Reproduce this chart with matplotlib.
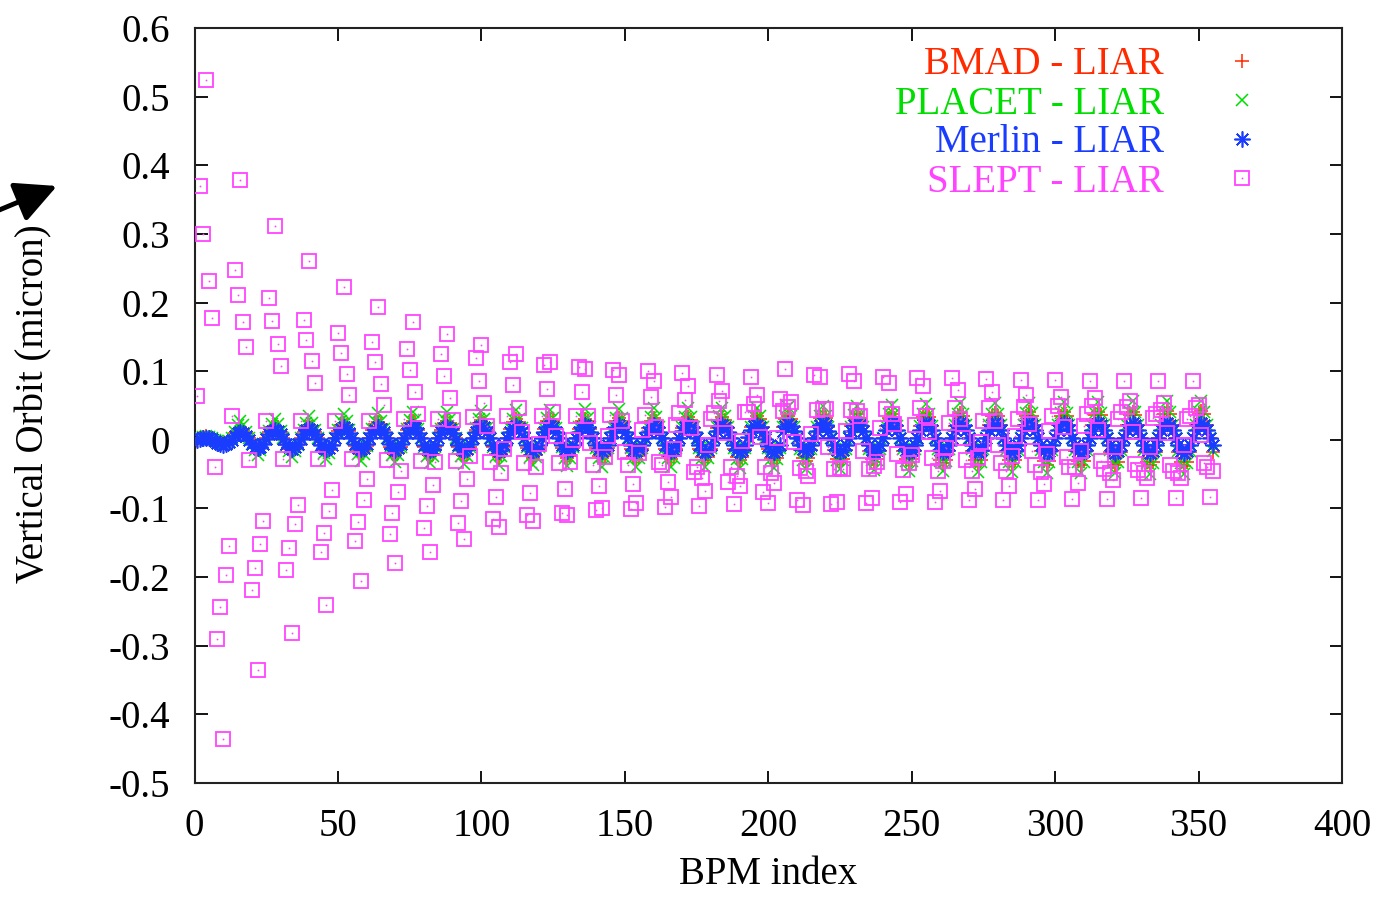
import matplotlib
matplotlib.use('Agg')
import matplotlib.pyplot as plt
from matplotlib.patches import FancyArrowPatch
from matplotlib.lines import Line2D

plt.rcParams['font.family'] = ['Liberation Serif', 'DejaVu Serif']
plt.rcParams['axes.unicode_minus'] = False

# ---------------- data ----------------
N_BPM = 355
PERIOD = 12  # values below are listed per position j inside each 12-BPM cell (BPM = 12*k + j + 1)

x_ticks = [0, 50, 100, 150, 200, 250, 300, 350, 400]
x_tick_labels = ['0', '50', '100', '150', '200', '250', '300', '350', '400']
y_ticks = [-0.5, -0.4, -0.3, -0.2, -0.1, 0.0, 0.1, 0.2, 0.3, 0.4, 0.5, 0.6]
y_tick_labels = ['-0.5', '-0.4', '-0.3', '-0.2', '-0.1', '0', '0.1', '0.2', '0.3', '0.4', '0.5', '0.6']

series_labels = ['BMAD - LIAR', 'PLACET - LIAR', 'Merlin - LIAR', 'SLEPT - LIAR']
series_colors = ['#ff2a00', '#00dd00', '#1a3cff', '#ff44ff']

# SLEPT - LIAR
slept_j0 = [0.064, 0.034, 0.028, 0.028, 0.028, 0.028, 0.031, 0.031, 0.033, 0.034, 0.035, 0.035, 0.036, 0.036, 0.039,
            0.039, 0.041, 0.042, 0.043, 0.044, 0.045, 0.046, 0.047, 0.047, 0.048, 0.049, 0.050, 0.048, 0.044, 0.046]
slept_j1 = [0.370, 0.247, 0.206, 0.175, 0.155, 0.143, 0.133, 0.125, 0.119, 0.113, 0.109, 0.106, 0.102, 0.100, 0.097,
            0.095, 0.092, 0.103, 0.092, 0.086, 0.083, 0.078, 0.073, 0.069, 0.066, 0.063, 0.061, 0.056, 0.054, 0.051]
slept_j2 = [0.300, 0.211, 0.173, 0.146, 0.127, 0.114, 0.102, 0.093, 0.086, 0.080, 0.074, 0.070, 0.066, 0.063, 0.058,
            0.056, 0.052, 0.048, 0.045, 0.042, 0.038, 0.035, 0.031, 0.027, 0.023, 0.019, 0.015, 0.012, 0.010, 0.007]
slept_j3 = [0.524, 0.378, 0.311, 0.260, 0.222, 0.194, 0.172, 0.154, 0.138, 0.125, 0.114, 0.103, 0.095, 0.086, 0.078,
            0.071, 0.066, 0.055, 0.045, 0.034, 0.023, 0.012, 0.002, -0.008, -0.017, -0.025, -0.031, -0.035, -0.036, -0.034]
slept_j4 = [0.232, 0.171, 0.140, 0.115, 0.096, 0.082, 0.070, 0.061, 0.053, 0.046, 0.040, 0.034, 0.027, 0.019, 0.017,
            0.010, 0.004, -0.003, -0.010, -0.016, -0.021, -0.026, -0.030, -0.034, -0.037, -0.040, -0.042, -0.044, -0.046, -0.039]
slept_j5 = [0.178, 0.135, 0.107, 0.083, 0.066, 0.051, 0.038, 0.029, 0.020, 0.012, 0.005, -0.005, -0.018, -0.032, -0.047,
            -0.062, -0.076, -0.088, -0.093, -0.092, -0.090, -0.090, -0.088, -0.087, -0.087, -0.086, -0.086, -0.085, -0.085, -0.084]
slept_j6 = [-0.040, -0.029, -0.028, -0.028, -0.028, -0.029, -0.031, -0.031, -0.032, -0.034, -0.034, -0.036, -0.036, -0.037, -0.039,
            -0.040, -0.040, -0.041, -0.042, -0.043, -0.044, -0.045, -0.045, -0.046, -0.047, -0.040, -0.049, -0.048, -0.049, -0.046]
slept_j7 = [-0.290, -0.219, -0.189, -0.164, -0.148, -0.137, -0.129, -0.121, -0.116, -0.109, -0.107, -0.102, -0.101, -0.098, -0.096,
            -0.093, -0.092, -0.095, -0.090, -0.085, -0.079, -0.075, -0.071, -0.068, -0.064, -0.063, -0.058, -0.056, -0.056]
slept_j8 = [-0.244, -0.187, -0.158, -0.136, -0.120, -0.107, -0.097, -0.089, -0.083, -0.077, -0.072, -0.068, -0.064, -0.061, -0.056,
            -0.053, -0.048, -0.045, -0.041, -0.038, -0.034, -0.031, -0.027, -0.024, -0.020, -0.017, -0.010, -0.010, -0.007]
slept_j9 = [-0.436, -0.336, -0.282, -0.240, -0.205, -0.180, -0.163, -0.145, -0.127, -0.119, -0.109, -0.100, -0.092, -0.083, -0.075,
            -0.068, -0.063, -0.053, -0.043, -0.032, -0.022, -0.012, -0.003, 0.006, 0.013, 0.020, 0.030, 0.032, 0.030]
slept_j10 = [-0.197, -0.152, -0.122, -0.104, -0.088, -0.076, -0.066, -0.057, -0.049, -0.039, -0.032, -0.025, -0.019, -0.013, -0.007,
             -0.002, 0.003, 0.008, 0.013, 0.017, 0.021, 0.025, 0.028, 0.031, 0.034, 0.037, 0.040, 0.038, 0.035]
slept_j11 = [-0.155, -0.119, -0.095, -0.073, -0.057, -0.045, -0.033, -0.023, -0.014, -0.006, 0.000, 0.005, 0.015, 0.022, 0.030,
             0.040, 0.060, 0.095, 0.096, 0.092, 0.090, 0.090, 0.088, 0.087, 0.087, 0.086, 0.086, 0.085, 0.085]

# Merlin - LIAR
merlin_j0 = [0.000, 0.000, 0.001, 0.001, 0.002, 0.002, 0.002, 0.002, 0.002, 0.002, 0.002, 0.002, 0.002, 0.003, 0.003,
             0.003, 0.004, 0.013, 0.013, 0.013, 0.014, 0.014, 0.014, 0.014, 0.014, 0.014, 0.014, 0.014, 0.014, 0.014]
merlin_j1 = [0.001, 0.006, 0.008, 0.008, 0.010, 0.010, 0.010, 0.011, 0.011, 0.011, 0.011, 0.012, 0.012, 0.012, 0.013,
             0.013, 0.014, 0.020, 0.021, 0.021, 0.021, 0.021, 0.021, 0.022, 0.022, 0.022, 0.022, 0.022, 0.022, 0.022]
merlin_j2 = [0.002, 0.010, 0.013, 0.014, 0.016, 0.015, 0.017, 0.017, 0.018, 0.017, 0.018, 0.018, 0.019, 0.019, 0.019,
             0.020, 0.020, 0.023, 0.024, 0.024, 0.024, 0.024, 0.024, 0.025, 0.025, 0.025, 0.025, 0.025, 0.025, 0.025]
merlin_j3 = [0.003, 0.012, 0.015, 0.016, 0.018, 0.018, 0.019, 0.019, 0.020, 0.020, 0.020, 0.021, 0.021, 0.021, 0.022,
             0.022, 0.022, 0.020, 0.021, 0.021, 0.021, 0.021, 0.021, 0.022, 0.022, 0.022, 0.022, 0.022, 0.022, 0.022]
merlin_j4 = [0.002, 0.010, 0.013, 0.014, 0.016, 0.016, 0.017, 0.016, 0.018, 0.017, 0.018, 0.018, 0.018, 0.018, 0.019,
             0.019, 0.018, 0.013, 0.013, 0.013, 0.014, 0.014, 0.014, 0.014, 0.014, 0.014, 0.014, 0.014, 0.014, 0.014]
merlin_j5 = [0.001, 0.006, 0.008, 0.008, 0.010, 0.011, 0.010, 0.010, 0.011, 0.011, 0.011, 0.012, 0.011, 0.011, 0.012,
             0.012, 0.011, 0.003, 0.003, 0.003, 0.003, 0.003, 0.003, 0.003, 0.003, 0.003, 0.003, 0.003, 0.003, 0.003]
merlin_j6 = [-0.001, 0.000, 0.001, 0.001, 0.002, 0.002, 0.002, 0.001, 0.002, 0.002, 0.002, 0.002, 0.002, 0.002, 0.002,
             0.002, 0.001, -0.007, -0.008, -0.008, -0.008, -0.008, -0.008, -0.008, -0.008, -0.008, -0.008, -0.008, -0.008, -0.008]
merlin_j7 = [-0.004, -0.006, -0.006, -0.007, -0.006, -0.006, -0.007, -0.007, -0.007, -0.007, -0.007, -0.008, -0.008, -0.008, -0.008,
             -0.008, -0.009, -0.014, -0.015, -0.015, -0.015, -0.015, -0.015, -0.016, -0.016, -0.016, -0.016, -0.016, -0.016]
merlin_j8 = [-0.006, -0.010, -0.011, -0.012, -0.012, -0.012, -0.013, -0.013, -0.014, -0.014, -0.014, -0.014, -0.015, -0.015, -0.015,
             -0.015, -0.016, -0.017, -0.018, -0.018, -0.018, -0.018, -0.018, -0.019, -0.019, -0.019, -0.019, -0.019, -0.019]
merlin_j9 = [-0.007, -0.012, -0.013, -0.014, -0.014, -0.015, -0.015, -0.015, -0.016, -0.016, -0.016, -0.017, -0.017, -0.017, -0.018,
             -0.018, -0.018, -0.014, -0.015, -0.015, -0.015, -0.015, -0.015, -0.016, -0.016, -0.016, -0.016, -0.016, -0.016]
merlin_j10 = [-0.006, -0.010, -0.011, -0.012, -0.012, -0.012, -0.013, -0.013, -0.014, -0.013, -0.014, -0.014, -0.014, -0.015, -0.015,
              -0.015, -0.015, -0.007, -0.008, -0.008, -0.008, -0.008, -0.008, -0.008, -0.008, -0.008, -0.008, -0.008, -0.008]
merlin_j11 = [-0.003, -0.006, -0.006, -0.007, -0.006, -0.006, -0.007, -0.006, -0.007, -0.007, -0.007, -0.008, -0.007, -0.008, -0.008,
              -0.008, -0.007, 0.003, 0.003, 0.003, 0.003, 0.003, 0.003, 0.003, 0.003, 0.003, 0.003, 0.003, 0.003]

# PLACET - LIAR
placet_j0 = [0.000, 0.003, 0.003, 0.003, 0.003, 0.003, 0.003, 0.003, 0.003, 0.003, 0.003, 0.003, 0.003, 0.003, 0.003,
             0.003, 0.003, 0.019, 0.019, 0.019, 0.020, 0.020, 0.021, 0.021, 0.021, 0.021, 0.021, 0.022, 0.022, 0.022]
placet_j1 = [0.002, 0.012, 0.013, 0.014, 0.015, 0.016, 0.016, 0.016, 0.017, 0.017, 0.017, 0.018, 0.018, 0.018, 0.018,
             0.018, 0.018, 0.035, 0.035, 0.036, 0.037, 0.037, 0.038, 0.038, 0.039, 0.039, 0.039, 0.040, 0.040, 0.041]
placet_j2 = [0.004, 0.021, 0.023, 0.025, 0.027, 0.028, 0.029, 0.030, 0.030, 0.031, 0.032, 0.032, 0.032, 0.033, 0.033,
             0.034, 0.034, 0.048, 0.049, 0.050, 0.051, 0.052, 0.053, 0.053, 0.054, 0.055, 0.055, 0.056, 0.056, 0.057]
placet_j3 = [0.006, 0.028, 0.031, 0.034, 0.037, 0.039, 0.040, 0.041, 0.042, 0.043, 0.044, 0.045, 0.045, 0.046, 0.046,
             0.047, 0.047, 0.035, 0.035, 0.036, 0.037, 0.037, 0.038, 0.038, 0.039, 0.039, 0.039, 0.040, 0.040, 0.041]
placet_j4 = [0.004, 0.021, 0.023, 0.025, 0.027, 0.028, 0.029, 0.030, 0.030, 0.031, 0.032, 0.032, 0.032, 0.033, 0.033,
             0.034, 0.034, 0.019, 0.019, 0.019, 0.020, 0.020, 0.021, 0.021, 0.021, 0.021, 0.021, 0.022, 0.022, 0.022]
placet_j5 = [0.002, 0.012, 0.013, 0.014, 0.015, 0.016, 0.016, 0.016, 0.017, 0.017, 0.017, 0.018, 0.018, 0.018, 0.018,
             0.018, 0.018, 0.003, 0.003, 0.003, 0.003, 0.003, 0.003, 0.003, 0.003, 0.003, 0.003, 0.003, 0.003, 0.003]
placet_j6 = [0.000, 0.003, 0.003, 0.003, 0.003, 0.003, 0.003, 0.003, 0.003, 0.003, 0.003, 0.003, 0.003, 0.003, 0.003,
             0.003, 0.003, -0.013, -0.013, -0.013, -0.014, -0.014, -0.014, -0.015, -0.015, -0.015, -0.015, -0.015, -0.016, -0.016]
placet_j7 = [-0.002, -0.006, -0.007, -0.008, -0.009, -0.010, -0.010, -0.010, -0.011, -0.011, -0.011, -0.012, -0.012, -0.012, -0.012,
             -0.012, -0.012, -0.029, -0.029, -0.030, -0.031, -0.031, -0.032, -0.032, -0.033, -0.033, -0.033, -0.034, -0.034]
placet_j8 = [-0.004, -0.015, -0.017, -0.019, -0.021, -0.022, -0.023, -0.024, -0.024, -0.025, -0.026, -0.026, -0.026, -0.027, -0.027,
             -0.028, -0.028, -0.042, -0.043, -0.044, -0.045, -0.046, -0.047, -0.047, -0.048, -0.049, -0.049, -0.050, -0.050]
placet_j9 = [-0.006, -0.022, -0.025, -0.028, -0.031, -0.033, -0.034, -0.035, -0.036, -0.037, -0.038, -0.039, -0.039, -0.040, -0.040,
             -0.041, -0.041, -0.029, -0.029, -0.030, -0.031, -0.031, -0.032, -0.032, -0.033, -0.033, -0.033, -0.034, -0.034]
placet_j10 = [-0.004, -0.015, -0.017, -0.019, -0.021, -0.022, -0.023, -0.024, -0.024, -0.025, -0.026, -0.026, -0.026, -0.027, -0.027,
              -0.028, -0.028, -0.013, -0.013, -0.013, -0.014, -0.014, -0.014, -0.015, -0.015, -0.015, -0.015, -0.015, -0.016]
placet_j11 = [-0.002, -0.006, -0.007, -0.008, -0.009, -0.010, -0.010, -0.010, -0.011, -0.011, -0.011, -0.012, -0.012, -0.012, -0.012,
              -0.012, -0.012, 0.003, 0.003, 0.003, 0.003, 0.003, 0.003, 0.003, 0.003, 0.003, 0.003, 0.003, 0.003]

# BMAD - LIAR
bmad_j0 = [0.000, 0.002, 0.002, 0.002, 0.002, 0.002, 0.002, 0.002, 0.002, 0.002, 0.002, 0.002, 0.002, 0.002, 0.002,
           0.002, 0.002, 0.019, 0.019, 0.020, 0.020, 0.020, 0.020, 0.021, 0.021, 0.021, 0.022, 0.022, 0.022, 0.022]
bmad_j1 = [0.002, 0.010, 0.011, 0.012, 0.013, 0.014, 0.014, 0.015, 0.015, 0.016, 0.016, 0.016, 0.017, 0.017, 0.017,
           0.017, 0.018, 0.031, 0.032, 0.032, 0.032, 0.033, 0.034, 0.034, 0.035, 0.035, 0.036, 0.036, 0.037, 0.037]
bmad_j2 = [0.004, 0.015, 0.018, 0.019, 0.021, 0.023, 0.024, 0.025, 0.025, 0.026, 0.027, 0.027, 0.028, 0.028, 0.029,
           0.029, 0.030, 0.035, 0.036, 0.037, 0.037, 0.038, 0.039, 0.039, 0.040, 0.040, 0.041, 0.041, 0.042, 0.042]
bmad_j3 = [0.005, 0.017, 0.020, 0.022, 0.024, 0.026, 0.027, 0.028, 0.029, 0.030, 0.031, 0.031, 0.032, 0.032, 0.033,
           0.033, 0.034, 0.031, 0.032, 0.032, 0.032, 0.033, 0.034, 0.034, 0.035, 0.035, 0.036, 0.036, 0.037, 0.037]
bmad_j4 = [0.004, 0.015, 0.018, 0.019, 0.021, 0.023, 0.024, 0.025, 0.025, 0.026, 0.027, 0.027, 0.028, 0.028, 0.029,
           0.029, 0.030, 0.019, 0.019, 0.020, 0.020, 0.020, 0.020, 0.021, 0.021, 0.021, 0.022, 0.022, 0.022, 0.022]
bmad_j5 = [0.002, 0.010, 0.011, 0.012, 0.013, 0.014, 0.014, 0.015, 0.015, 0.016, 0.016, 0.016, 0.017, 0.017, 0.017,
           0.017, 0.018, 0.002, 0.002, 0.002, 0.002, 0.002, 0.002, 0.002, 0.002, 0.002, 0.002, 0.002, 0.002, 0.002]
bmad_j6 = [0.000, 0.002, 0.002, 0.002, 0.002, 0.002, 0.002, 0.002, 0.002, 0.002, 0.002, 0.002, 0.002, 0.002, 0.002,
           0.002, 0.002, -0.015, -0.015, -0.016, -0.016, -0.016, -0.016, -0.017, -0.017, -0.017, -0.018, -0.018, -0.018, -0.018]
bmad_j7 = [-0.002, -0.006, -0.007, -0.008, -0.009, -0.010, -0.010, -0.011, -0.011, -0.012, -0.012, -0.012, -0.013, -0.013, -0.013,
           -0.013, -0.014, -0.027, -0.028, -0.028, -0.028, -0.029, -0.030, -0.030, -0.031, -0.031, -0.032, -0.032, -0.033]
bmad_j8 = [-0.004, -0.011, -0.014, -0.015, -0.017, -0.019, -0.020, -0.021, -0.021, -0.022, -0.023, -0.023, -0.024, -0.024, -0.025,
           -0.025, -0.026, -0.031, -0.032, -0.033, -0.033, -0.034, -0.035, -0.035, -0.036, -0.036, -0.037, -0.037, -0.038]
bmad_j9 = [-0.005, -0.013, -0.016, -0.018, -0.020, -0.022, -0.023, -0.024, -0.025, -0.026, -0.027, -0.027, -0.028, -0.028, -0.029,
           -0.029, -0.030, -0.027, -0.028, -0.028, -0.028, -0.029, -0.030, -0.030, -0.031, -0.031, -0.032, -0.032, -0.033]
bmad_j10 = [-0.004, -0.011, -0.014, -0.015, -0.017, -0.019, -0.020, -0.021, -0.021, -0.022, -0.023, -0.023, -0.024, -0.024, -0.025,
            -0.025, -0.026, -0.015, -0.015, -0.016, -0.016, -0.016, -0.016, -0.017, -0.017, -0.017, -0.018, -0.018, -0.018]
bmad_j11 = [-0.002, -0.006, -0.007, -0.008, -0.009, -0.010, -0.010, -0.011, -0.011, -0.012, -0.012, -0.012, -0.013, -0.013, -0.013,
            -0.013, -0.014, 0.002, 0.002, 0.002, 0.002, 0.002, 0.002, 0.002, 0.002, 0.002, 0.002, 0.002, 0.002]


def assemble(phase_lists, n_bpm):
    """Put the per-cell-position lists back in BPM order."""
    pairs = []
    for j, lst in enumerate(phase_lists):
        for k, v in enumerate(lst):
            bpm = PERIOD * k + j + 1
            if bpm <= n_bpm:
                pairs.append((bpm, v))
    pairs.sort()
    return [p[0] for p in pairs], [p[1] for p in pairs]


bmad_x, bmad_y = assemble([bmad_j0, bmad_j1, bmad_j2, bmad_j3, bmad_j4, bmad_j5, bmad_j6, bmad_j7,
                           bmad_j8, bmad_j9, bmad_j10, bmad_j11], N_BPM)
placet_x, placet_y = assemble([placet_j0, placet_j1, placet_j2, placet_j3, placet_j4, placet_j5, placet_j6,
                               placet_j7, placet_j8, placet_j9, placet_j10, placet_j11], N_BPM)
merlin_x, merlin_y = assemble([merlin_j0, merlin_j1, merlin_j2, merlin_j3, merlin_j4, merlin_j5, merlin_j6,
                               merlin_j7, merlin_j8, merlin_j9, merlin_j10, merlin_j11], N_BPM)
slept_x, slept_y = assemble([slept_j0, slept_j1, slept_j2, slept_j3, slept_j4, slept_j5, slept_j6, slept_j7,
                             slept_j8, slept_j9, slept_j10, slept_j11], N_BPM)

# ---------------- figure ----------------
W, H = 1381, 898
fig = plt.figure(figsize=(W / 100, H / 100), dpi=100)
ax_l, ax_r, ax_t, ax_b = 194.5, 1342, 28, 783
ax = fig.add_axes([ax_l / W, 1 - ax_b / H, (ax_r - ax_l) / W, (ax_b - ax_t) / H])

FS = 28
mk_bmad = dict(marker='+', ms=10, mew=1.1, color=series_colors[0])
mk_placet = dict(marker='x', ms=9, mew=1.1, color=series_colors[1])
mk_merlin = dict(marker=(8, 2, 0), ms=11.5, mew=1.2, color=series_colors[2])
mk_slept = dict(marker='s', ms=9.4, mew=1.3, mfc='none', mec=series_colors[3])

ax.plot(bmad_x, bmad_y, linestyle='none', zorder=3, **mk_bmad)
ax.plot(placet_x, placet_y, linestyle='none', zorder=4, **mk_placet)
ax.plot(merlin_x, merlin_y, linestyle='none', zorder=5, **mk_merlin)
ax.plot(slept_x, slept_y, linestyle='none', zorder=6, **mk_slept)
ax.plot(slept_x, slept_y, linestyle='none', marker='o', ms=1.3, mew=0, color=series_colors[3], zorder=6)

ax.set_xlim(0, 400)
ax.set_ylim(-0.5, 0.6)
ax.set_xticks(x_ticks)
ax.set_xticklabels(x_tick_labels)
ax.set_yticks(y_ticks)
ax.set_yticklabels(y_tick_labels)
ax.tick_params(direction='in', length=9, width=1.3, top=True, right=True,
               labelsize=FS, colors='black')
ax.tick_params(axis='x', pad=18)
ax.tick_params(axis='y', pad=17.5)
for sp in ax.spines.values():
    sp.set_linewidth(1.5)
    sp.set_color('#222222')

fig.text(768 / W, 1 - 875 / H, 'BPM index', ha='center', va='center', fontsize=FS)
fig.text(34 / W, 1 - 404 / H, 'Vertical Orbit (micron)', ha='center', va='center',
         rotation=90, fontsize=FS)

# key (gnuplot style: right-justified text, sample to the right)
key_rows_y = [61, 100, 139, 178]
key_markers = [mk_bmad, mk_placet, mk_merlin, mk_slept]
for lab, col, yy, mk in zip(series_labels, series_colors, key_rows_y, key_markers):
    fig.text(1164 / W, 1 - (yy + 4) / H, lab, ha='right', va='center', fontsize=FS, color=col)
    ax.add_line(Line2D([(1242 - ax_l) / (ax_r - ax_l)], [(ax_b - yy) / (ax_b - ax_t)],
                       transform=ax.transAxes, clip_on=False, linestyle='none', **mk))
ax.add_line(Line2D([(1242 - ax_l) / (ax_r - ax_l)], [(ax_b - 178) / (ax_b - ax_t)],
                   transform=ax.transAxes, clip_on=False, linestyle='none',
                   marker='o', ms=1.3, mew=0, color=series_colors[3]))

# black arrow at the upper left
arrow = FancyArrowPatch(posA=(-8 / W, 1 - 213 / H), posB=(57 / W, 1 - 186 / H),
                        transform=fig.transFigure, arrowstyle='-|>,head_length=0.9,head_width=0.45',
                        mutation_scale=28, lw=3.5, color='black', shrinkA=0, shrinkB=0)
fig.patches.append(arrow)

fig.savefig('out.png', dpi=100)
